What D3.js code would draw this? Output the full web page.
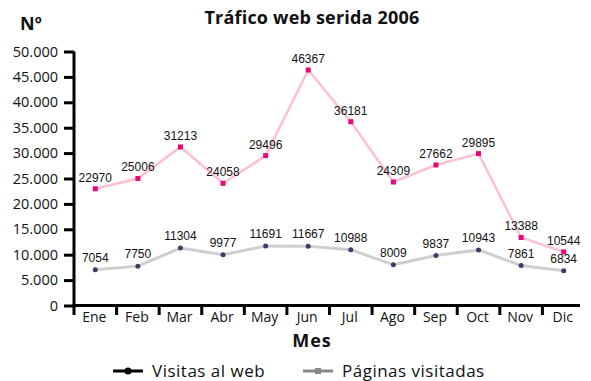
<!DOCTYPE html>
<html>
<head>
<meta charset="utf-8">
<script src="https://cdn.jsdelivr.net/npm/d3@7/dist/d3.min.js"></script>
<style>
  html, body { margin: 0; padding: 0; background: #fff; }
  svg { display: block; }
  text { font-family: "Open Sans", "DejaVu Sans", sans-serif; fill: #111; }
</style>
</head>
<body>
<svg id="chart" width="591" height="381"></svg>
<script>
// Monthly web traffic, 2006
const months = ["Ene", "Feb", "Mar", "Abr", "May", "Jun", "Jul", "Ago", "Sep", "Oct", "Nov", "Dic"];
const paginasVisitadas = [22970, 25006, 31213, 24058, 29496, 46367, 36181, 24309, 27662, 29895, 13388, 10544];
const visitasWeb = [7054, 7750, 11304, 9977, 11691, 11667, 10988, 8009, 9837, 10943, 7861, 6834];
const yTicks = [0, 5000, 10000, 15000, 20000, 25000, 30000, 35000, 40000, 45000, 50000];
const legendItems = ["Visitas al web", "Páginas visitadas"];

const svg = d3.select("#chart");
const plotLeft = 74, plotRight = 585, plotTop = 51.5, plotBottom = 305.5;

const x = d3.scaleBand().domain(months).range([plotLeft, plotRight]);
const y = d3.scaleLinear().domain([0, 50000]).range([plotBottom, plotTop]);
const fmt = v => d3.format(",")(v).replace(/,/g, ".");

// Title and axis titles
svg.append("text").attr("x", 312).attr("y", 24).attr("text-anchor", "middle")
  .style("font-weight", "bold").style("font-size", "18px").style("letter-spacing", "0.2px")
  .text("Tráfico web serida 2006");
svg.append("text").attr("x", 20).attr("y", 30)
  .style("font-weight", "bold").style("font-size", "18px").text("Nº");
svg.append("text").attr("x", 312).attr("y", 347).attr("text-anchor", "middle")
  .style("font-weight", "bold").style("font-size", "18px").style("letter-spacing", "1px").text("Mes");

// Y axis
const yAxis = svg.append("g").attr("transform", `translate(${plotLeft},0)`)
  .call(d3.axisLeft(y).tickValues(yTicks).tickFormat(fmt).tickSize(10).tickPadding(6));
yAxis.select(".domain").attr("d", `M0,${plotTop}V${plotBottom + 9.5}`).attr("stroke", "#000").attr("stroke-width", 3);
yAxis.selectAll(".tick line").attr("stroke", "#000").attr("stroke-width", 3);
yAxis.selectAll(".tick text").style("font-size", "14.5px").style("font-family", "'Open Sans', sans-serif").attr("fill", "#111");

// X axis: ticks at band boundaries, labels centred in bands
const xg = svg.append("g");
xg.append("line").attr("x1", plotLeft - 1.5).attr("x2", 580).attr("y1", plotBottom).attr("y2", plotBottom)
  .attr("stroke", "#000").attr("stroke-width", 3);
xg.selectAll("line.tk").data(months.slice(1)).join("line").attr("class", "tk")
  .attr("x1", d => x(d)).attr("x2", d => x(d))
  .attr("y1", plotBottom).attr("y2", plotBottom + 9.5)
  .attr("stroke", "#000").attr("stroke-width", 3);
xg.selectAll("text").data(months).join("text")
  .attr("x", d => x(d) + x.bandwidth() / 2 - 1)
  .attr("y", 322).attr("text-anchor", "middle")
  .style("font-size", "14px").text(d => d);

const cx = d => x(d) + x.bandwidth() / 2;
const line = d3.line().x((d, i) => cx(months[i])).y(d => y(d));

// Páginas visitadas
svg.append("path").datum(paginasVisitadas).attr("d", line)
  .attr("fill", "none").attr("stroke", "#ffc0d0").attr("stroke-width", 2.5);
svg.selectAll("rect.pv").data(paginasVisitadas).join("rect").attr("class", "pv")
  .attr("x", (d, i) => cx(months[i]) - 2.5).attr("y", d => y(d) - 2.5)
  .attr("width", 5).attr("height", 5).attr("fill", "#e8087a");
svg.selectAll("text.pvl").data(paginasVisitadas).join("text").attr("class", "pvl")
  .attr("x", (d, i) => cx(months[i])).attr("y", d => y(d) - 7)
  .attr("text-anchor", "middle").style("font-size", "12px")
  .style("font-family", "'Liberation Sans', Arial, sans-serif").attr("fill", "#222").text(d => d);

// Visitas al web
svg.append("path").datum(visitasWeb).attr("d", line)
  .attr("fill", "none").attr("stroke", "#cfcfcf").attr("stroke-width", 3);
svg.selectAll("circle.vw").data(visitasWeb).join("circle").attr("class", "vw")
  .attr("cx", (d, i) => cx(months[i])).attr("cy", d => y(d)).attr("r", 2.5)
  .attr("fill", "#3c3c66");
svg.selectAll("text.vwl").data(visitasWeb).join("text").attr("class", "vwl")
  .attr("x", (d, i) => cx(months[i])).attr("y", d => y(d) - 8)
  .attr("text-anchor", "middle").style("font-size", "12px")
  .style("font-family", "'Liberation Sans', Arial, sans-serif").attr("fill", "#222").text(d => d);

// Legend
const lg = svg.append("g");
const lx = [113, 303];
lg.selectAll("line").data(legendItems).join("line")
  .attr("x1", (d, i) => lx[i]).attr("x2", (d, i) => lx[i] + 30)
  .attr("y1", 371).attr("y2", 371)
  .attr("stroke", (d, i) => i === 0 ? "#000" : "#888").attr("stroke-width", 3);
lg.append("circle").attr("cx", lx[0] + 15).attr("cy", 371).attr("r", 3.5).attr("fill", "#000");
lg.append("rect").attr("x", lx[1] + 12).attr("y", 368).attr("width", 6).attr("height", 6).attr("fill", "#888");
lg.selectAll("text").data(legendItems).join("text")
  .attr("x", (d, i) => lx[i] + 39).attr("y", 377)
  .style("font-size", "17px").style("letter-spacing", "0.5px").text(d => d);
</script>
</body>
</html>
